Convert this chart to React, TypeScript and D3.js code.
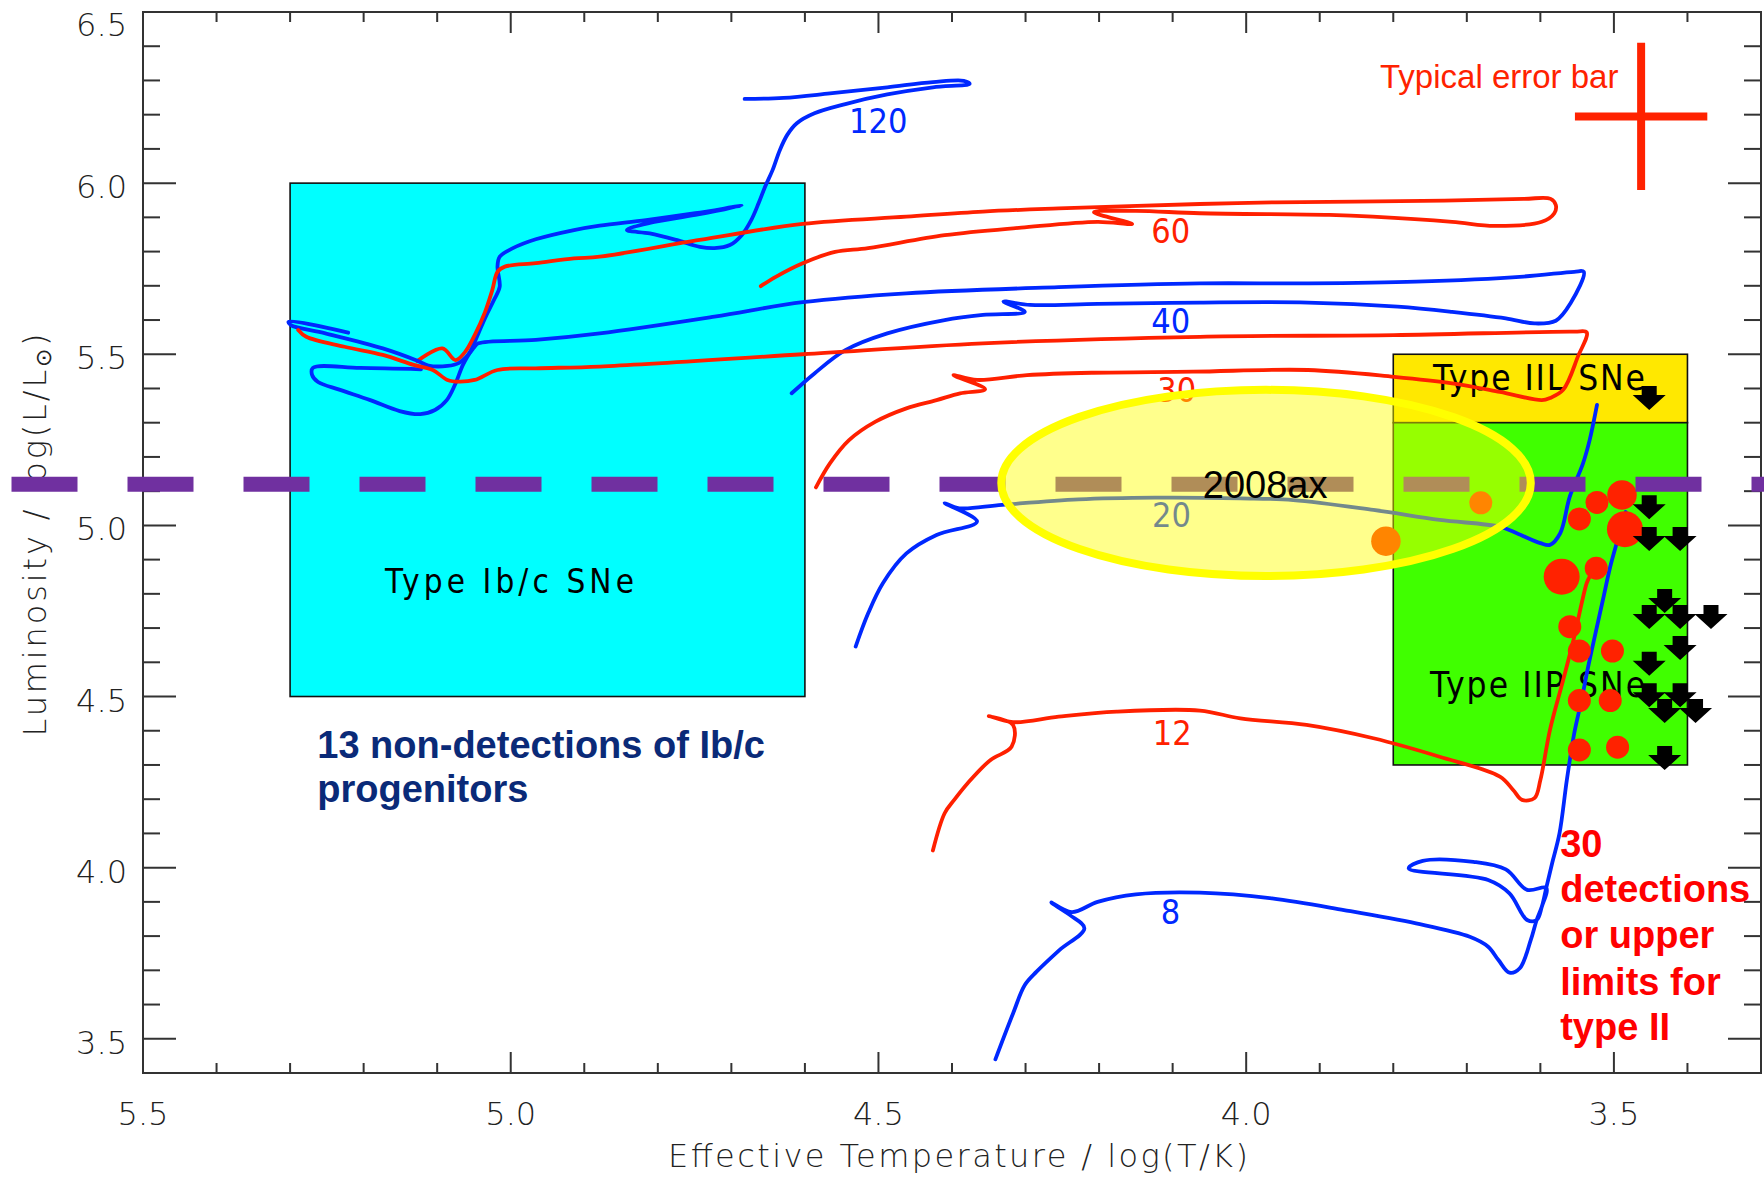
import React from 'react';
import * as d3 from 'd3';

const W = 1764;
const H = 1179;

// Axis domains: effective temperature decreases to the right
const TEFF_DOMAIN: [number, number] = [5.5, 3.3];
const LUM_DOMAIN: [number, number] = [3.4, 6.5];
const X_MAJOR = [5.5, 5.0, 4.5, 4.0, 3.5];
const Y_MAJOR = [3.5, 4.0, 4.5, 5.0, 5.5, 6.0, 6.5];

// Stellar evolution tracks [log Teff, log L]
const track120: number[][] = [
  [4.682, 6.246], [4.629, 6.249], [4.566, 6.262], [4.488, 6.28], [4.426, 6.295], [4.384, 6.299], [4.376, 6.29],
  [4.426, 6.28], [4.488, 6.259], [4.545, 6.231], [4.587, 6.204], [4.611, 6.175], [4.624, 6.141], [4.634, 6.097],
  [4.644, 6.038], [4.654, 5.99], [4.663, 5.941], [4.673, 5.892], [4.686, 5.848], [4.702, 5.819], [4.723, 5.81],
  [4.743, 5.814], [4.775, 5.834], [4.811, 5.853], [4.842, 5.863], [4.811, 5.884], [4.749, 5.907], [4.686, 5.934],
  [4.749, 5.912], [4.816, 5.892], [4.879, 5.876], [4.914, 5.863], [4.966, 5.836], [4.997, 5.81], [5.015, 5.785],
  [5.018, 5.756], [5.015, 5.697], [5.023, 5.658], [5.034, 5.61], [5.044, 5.561], [5.054, 5.512], [5.065, 5.469],
  [5.076, 5.41], [5.087, 5.366], [5.103, 5.337], [5.123, 5.325], [5.151, 5.334], [5.191, 5.366], [5.232, 5.396],
  [5.262, 5.419], [5.27, 5.439], [5.269, 5.46], [5.205, 5.46], [5.122, 5.456],
];
const track60: number[][] = [
  [4.66, 5.699], [4.639, 5.727], [4.603, 5.766], [4.559, 5.799], [4.514, 5.81], [4.41, 5.848], [4.306, 5.87],
  [4.202, 5.887], [4.155, 5.881], [4.207, 5.915], [4.15, 5.919], [4.063, 5.912], [3.887, 5.907], [3.828, 5.902],
  [3.72, 5.887], [3.662, 5.875], [3.598, 5.887], [3.581, 5.912], [3.579, 5.936], [3.586, 5.954], [3.623, 5.954],
  [3.76, 5.948], [3.96, 5.944], [4.063, 5.939], [4.255, 5.926], [4.358, 5.917], [4.462, 5.902], [4.603, 5.881],
  [4.743, 5.834], [4.879, 5.785], [4.914, 5.78], [4.966, 5.766], [5.008, 5.756], [5.018, 5.741], [5.025, 5.688],
  [5.035, 5.623], [5.049, 5.556], [5.062, 5.507], [5.075, 5.483], [5.093, 5.517], [5.127, 5.48],
];
const track40: number[][] = [
  [4.618, 5.386], [4.587, 5.444], [4.545, 5.512], [4.488, 5.561], [4.41, 5.6], [4.358, 5.615], [4.301, 5.624],
  [4.33, 5.654], [4.294, 5.644], [4.202, 5.647], [4.063, 5.651], [3.916, 5.651], [3.794, 5.639], [3.72, 5.624],
  [3.647, 5.605], [3.608, 5.59], [3.579, 5.598], [3.559, 5.649], [3.541, 5.741], [3.554, 5.741], [3.623, 5.727],
  [3.769, 5.712], [3.916, 5.707], [4.063, 5.707], [4.255, 5.696], [4.462, 5.678], [4.603, 5.652], [4.723, 5.61],
  [4.879, 5.561], [4.966, 5.542], [5.044, 5.532], [5.049, 5.522], [5.06, 5.493], [5.07, 5.475], [5.086, 5.466],
  [5.112, 5.467], [5.127, 5.481], [5.174, 5.517], [5.252, 5.561], [5.299, 5.585], [5.302, 5.595], [5.221, 5.563],
];
const track30: number[][] = [
  [4.585, 5.111], [4.566, 5.181], [4.54, 5.249], [4.504, 5.303], [4.462, 5.342], [4.421, 5.366], [4.389, 5.386],
  [4.355, 5.398], [4.398, 5.439], [4.366, 5.425], [4.298, 5.439], [4.208, 5.446], [4.072, 5.449], [3.916, 5.454],
  [3.799, 5.434], [3.72, 5.415], [3.655, 5.39], [3.598, 5.366], [3.587, 5.372], [3.569, 5.396], [3.549, 5.493],
  [3.537, 5.564], [3.554, 5.566], [3.799, 5.556], [4.063, 5.551], [4.358, 5.532], [4.603, 5.5], [4.879, 5.464],
  [4.966, 5.459], [5.018, 5.454], [5.049, 5.425], [5.07, 5.42], [5.086, 5.425], [5.106, 5.454], [5.132, 5.469],
  [5.174, 5.498], [5.226, 5.522], [5.278, 5.551], [5.289, 5.571],
];
const track20: number[][] = [
  [4.531, 4.646], [4.514, 4.743], [4.494, 4.831], [4.462, 4.918], [4.421, 4.972], [4.366, 5.011], [4.41, 5.065],
  [4.39, 5.05], [4.332, 5.06], [4.228, 5.076], [4.124, 5.081], [4.008, 5.079], [3.936, 5.074], [3.827, 5.045],
  [3.737, 5.016], [3.655, 4.996], [3.632, 4.977], [3.6, 4.948], [3.587, 4.943], [3.573, 4.977], [3.56, 5.084],
  [3.542, 5.181], [3.533, 5.249], [3.523, 5.352],
];
const track12: number[][] = [
  [4.426, 4.05], [4.41, 4.159], [4.397, 4.198], [4.379, 4.246], [4.348, 4.314], [4.319, 4.353], [4.317, 4.417],
  [4.35, 4.443], [4.317, 4.425], [4.255, 4.441], [4.176, 4.456], [4.063, 4.459], [4.008, 4.436], [3.918, 4.417],
  [3.827, 4.378], [3.737, 4.324], [3.655, 4.266], [3.637, 4.227], [3.625, 4.198], [3.608, 4.203], [3.6, 4.256],
  [3.587, 4.402], [3.569, 4.548], [3.555, 4.665], [3.537, 4.831], [3.533, 4.85],
];
const track8: number[][] = [
  [4.341, 3.44], [4.317, 3.574], [4.301, 3.657], [4.285, 3.696], [4.254, 3.759], [4.22, 3.823], [4.24, 3.862],
  [4.265, 3.898], [4.237, 3.87], [4.202, 3.9], [4.15, 3.922], [4.063, 3.927], [3.965, 3.91], [3.867, 3.876],
  [3.769, 3.837], [3.696, 3.798], [3.671, 3.769], [3.657, 3.73], [3.642, 3.693], [3.628, 3.706], [3.613, 3.789],
  [3.605, 3.847], [3.598, 3.886], [3.592, 3.941], [3.618, 3.935], [3.647, 3.995], [3.691, 4.017], [3.76, 4.02],
  [3.779, 3.998], [3.671, 3.964], [3.642, 3.925], [3.618, 3.847], [3.605, 3.847], [3.598, 3.886], [3.592, 3.941],
  [3.584, 4.013], [3.574, 4.1], [3.564, 4.256], [3.554, 4.392], [3.544, 4.49], [3.535, 4.587], [3.525, 4.685],
  [3.515, 4.782], [3.505, 4.879], [3.495, 4.957], [3.484, 5.039],
];

const trackMasses = ['120', '60', '40', '30', '20', '12', '8'];
const trackData = [track120, track60, track40, track30, track20, track12, track8];
const trackKinds = ['blue', 'red', 'blue', 'red', 'blue', 'red', 'blue'];
// label anchor (log Teff, log L) for each mass label
const trackLabelAt: number[][] = [
  [4.54, 6.146], [4.129, 5.825], [4.129, 5.562], [4.121, 5.36], [4.128, 4.995], [4.127, 4.358], [4.116, 3.835],
];

// progenitor detections [log Teff, log L, size class]
const detections: number[][] = [
  [3.489, 5.089, 2], [3.523, 5.067, 1], [3.547, 5.019, 1], [3.485, 4.989, 3], [3.571, 4.85, 3],
  [3.524, 4.875, 1], [3.56, 4.704, 1], [3.547, 4.633, 1], [3.502, 4.633, 1], [3.547, 4.488, 1],
  [3.505, 4.488, 1], [3.547, 4.344, 1], [3.495, 4.352, 1], [3.681, 5.066, 1], [3.81, 4.954, 2],
];
// upper limits [log Teff, log L]
const upperLimits: number[][] = [
  [3.452, 5.372], [3.452, 5.053], [3.452, 4.96], [3.41, 4.96], [3.431, 4.779], [3.452, 4.732], [3.41, 4.732],
  [3.368, 4.732], [3.41, 4.642], [3.452, 4.596], [3.452, 4.504], [3.41, 4.504], [3.431, 4.458], [3.389, 4.458],
  [3.431, 4.32],
];

// regions [Teff hot, Teff cool, L low, L high]
const boxIbc = [5.3, 4.6, 4.5, 6.0];
const boxIIL = [3.8, 3.4, 5.3, 5.5];
const boxIIP = [3.8, 3.4, 4.3, 5.3];

// 2008ax progenitor ellipse: centre and half-axes in data units
const ellipse2008ax = { t: 3.973, l: 5.124, dt: 0.36, dl: 0.272 };
const limitLum = 5.12;
const errorBar = { t: 3.463, l: 6.195, dt: 0.09, dl: 0.215 };

const COL_RED = '#FF2000';
const COL_BLUE = '#0028FF';

export default function App() {
  const x = d3.scaleLinear().domain(TEFF_DOMAIN).range([143, 1761]);
  const y = d3.scaleLinear().domain(LUM_DOMAIN).range([1073, 12]);
  const line = d3.line<number[]>().x((d) => x(d[0])).y((d) => y(d[1])).curve(d3.curveCatmullRom.alpha(0.5));
  const rScale = d3.scaleLinear().domain([1, 3]).range([11.5, 18]);
  const fmt = d3.format('.1f');

  const x0 = x(TEFF_DOMAIN[0]);
  const x1 = x(TEFF_DOMAIN[1]);
  const y0 = y(LUM_DOMAIN[0]);
  const y1 = y(LUM_DOMAIN[1]);

  const xMinor = d3.range(0, 23).map((i) => +(5.5 - i * 0.1).toFixed(1));
  const yMinor = d3.range(0, 32).map((i) => +(3.4 + i * 0.1).toFixed(1));
  const isMajor = (v: number) => Math.abs(v * 2 - Math.round(v * 2)) < 1e-6;

  const thin = { fontFamily: "'DejaVu Sans', sans-serif", fontWeight: 200 } as const;
  const hershey = { fontFamily: "'DejaVu Sans Condensed', 'DejaVu Sans', sans-serif" } as const;
  const arial = { fontFamily: "'Liberation Sans', Arial, sans-serif" } as const;

  const box = (b: number[], fill: string, key: string) => (
    <rect key={key} x={x(b[0])} y={y(b[3])} width={x(b[1]) - x(b[0])} height={y(b[2]) - y(b[3])}
      fill={fill} stroke="#111" strokeWidth={1.6} />
  );

  const arrow = (cx: number, cy: number) =>
    `M${cx - 7.5},${cy - 12}h15v9h9l-16.5,15l-16.5,-15h9z`;

  const ex = x(ellipse2008ax.t);
  const ey = y(ellipse2008ax.l);
  const erx = Math.abs(x(ellipse2008ax.t - ellipse2008ax.dt) - ex);
  const ery = Math.abs(y(ellipse2008ax.l + ellipse2008ax.dl) - ey);

  return (
    <svg width={W} height={H} viewBox={`0 0 ${W} ${H}`}
      style={{ position: 'absolute', left: 0, top: 0, background: '#fff' }}>
      <rect x={0} y={0} width={W} height={H} fill="#fff" />

      {/* regions */}
      {box(boxIbc, '#00FFFF', 'ibc')}
      {box(boxIIL, '#FFE800', 'iil')}
      {box(boxIIP, '#40FF00', 'iip')}
      <text x={x(5.171)} y={y(4.802)} fontSize={33} textLength={249} lengthAdjust="spacing" fill="#000" {...hershey}>Type Ib/c SNe</text>
      <text x={x(3.746)} y={y(5.396)} fontSize={35} textLength={212} lengthAdjust="spacing" fill="#000" {...hershey}>Type IIL SNe</text>
      <text x={x(3.75)} y={y(4.499)} fontSize={35} textLength={215} lengthAdjust="spacing" fill="#000" {...hershey}>Type IIP SNe</text>

      {/* tracks */}
      {trackData.map((pts, i) => (
        <path key={trackMasses[i]} d={line(pts) || ''} fill="none"
          stroke={trackKinds[i] === 'red' ? COL_RED : COL_BLUE} strokeWidth={3.8}
          strokeLinejoin="round" strokeLinecap="round" />
      ))}
      {trackMasses.map((m, i) => (
        <text key={'lab' + m} x={x(trackLabelAt[i][0])} y={y(trackLabelAt[i][1])} fontSize={34}
          fill={trackKinds[i] === 'red' ? COL_RED : COL_BLUE} {...hershey}>{m}</text>
      ))}

      {/* detections */}
      {detections.map((d, i) => (
        <circle key={'d' + i} cx={x(d[0])} cy={y(d[1])} r={rScale(d[2])} fill="#FF2200" />
      ))}
      {upperLimits.map((d, i) => (
        <path key={'u' + i} d={arrow(x(d[0]), y(d[1]))} fill="#000" />
      ))}

      {/* frame and ticks */}
      <rect x={x0} y={y1} width={x1 - x0} height={y0 - y1} fill="none" stroke="#333" strokeWidth={2} />
      {xMinor.map((v) => {
        const len = isMajor(v) ? 21 : 10;
        return (
          <g key={'xt' + v}>
            <line x1={x(v)} x2={x(v)} y1={y0} y2={y0 - len} stroke="#333" strokeWidth={2} />
            <line x1={x(v)} x2={x(v)} y1={y1} y2={y1 + len} stroke="#333" strokeWidth={2} />
          </g>
        );
      })}
      {yMinor.map((v) => {
        const len = isMajor(v) ? 33 : 17;
        return (
          <g key={'yt' + v}>
            <line x1={x0} x2={x0 + len} y1={y(v)} y2={y(v)} stroke="#333" strokeWidth={2} />
            <line x1={x1} x2={x1 - len} y1={y(v)} y2={y(v)} stroke="#333" strokeWidth={2} />
          </g>
        );
      })}
      {X_MAJOR.map((v) => (
        <text key={'xl' + v} x={x(v)} y={1125} fontSize={32} textAnchor="middle" fill="#222" {...thin}>{fmt(v)}</text>
      ))}
      {Y_MAJOR.map((v) => (
        <text key={'yl' + v} x={127} y={Math.max(y(v) + 15, 36)} fontSize={32} textAnchor="end" fill="#222" {...thin}>{fmt(v)}</text>
      ))}
      <text x={958} y={1167} fontSize={32} textAnchor="middle" textLength={580} lengthAdjust="spacing" fill="#222" {...thin}>
        Effective Temperature / log(T/K)
      </text>
      <text transform="translate(46,535) rotate(-90)" fontSize={32} textAnchor="middle" textLength={403}
        lengthAdjust="spacing" fill="#222" {...thin}>
        Luminosity / log(L/L<tspan dy={5} fontSize={22}>⊙</tspan><tspan dy={-5}>)</tspan>
      </text>

      {/* typical error bar */}
      <text x={x(3.818)} y={y(6.278)} fontSize={33} fill="#FF2200" {...arial}>Typical error bar</text>
      <line x1={x(errorBar.t)} x2={x(errorBar.t)} y1={y(errorBar.l + errorBar.dl)} y2={y(errorBar.l - errorBar.dl)}
        stroke="#FF2200" strokeWidth={8} />
      <line x1={x(errorBar.t + errorBar.dt)} x2={x(errorBar.t - errorBar.dt)} y1={y(errorBar.l)} y2={y(errorBar.l)}
        stroke="#FF2200" strokeWidth={8} />

      {/* luminosity limit */}
      <line x1={11.5} x2={W} y1={y(limitLum)} y2={y(limitLum)} stroke="#7030A0" strokeWidth={15}
        strokeDasharray="66 50" />

      {/* 2008ax ellipse */}
      <ellipse cx={ex} cy={ey} rx={erx} ry={ery} fill="rgba(255,255,0,0.45)" stroke="#FFFF00" strokeWidth={8} />
      <text x={x(4.059)} y={y(5.08)} fontSize={38} fill="#000" {...arial}>2008ax</text>

      {/* annotations */}
      <text x={x(5.263)} y={y(4.32)} fontSize={38} fontWeight={700} fill="#0A2A78" {...arial}>
        <tspan x={x(5.263)} dy={0}>13 non-detections of Ib/c</tspan>
        <tspan x={x(5.263)} dy={44}>progenitors</tspan>
      </text>
      <text x={x(3.573)} y={y(4.03)} fontSize={38} fontWeight={700} fill="#FF0000" {...arial}>
        <tspan x={x(3.573)} dy={0}>30</tspan>
        <tspan x={x(3.573)} dy={45}>detections</tspan>
        <tspan x={x(3.573)} dy={46}>or upper</tspan>
        <tspan x={x(3.573)} dy={47}>limits for</tspan>
        <tspan x={x(3.573)} dy={45}>type II</tspan>
      </text>
    </svg>
  );
}
